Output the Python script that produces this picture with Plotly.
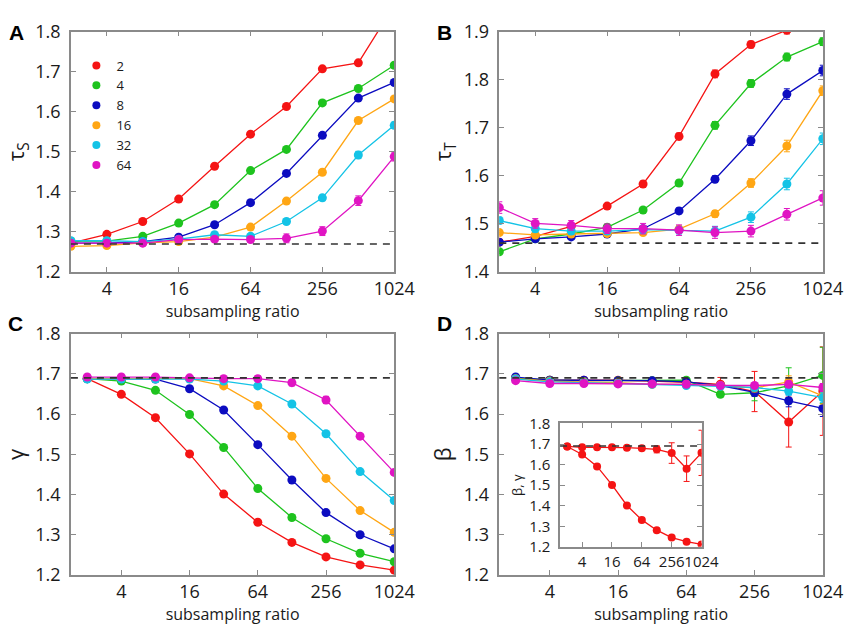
import math
import plotly.graph_objects as go

# ---------------- data ----------------
ratios = [2, 4, 8, 16, 32, 64, 128, 256, 512, 1024]
tick_vals = [4, 16, 64, 256, 1024]
tick_text = ["4", "16", "64", "256", "1024"]
series_labels = ["2", "4", "8", "16", "32", "64"]

# Panel A: tau_S
tauS_2 = [1.272, 1.294, 1.326, 1.382, 1.464, 1.544, 1.613, 1.707, 1.722, 1.865]
tauS_4 = [1.277, 1.277, 1.289, 1.322, 1.368, 1.453, 1.506, 1.622, 1.658, 1.716]
tauS_8 = [1.272, 1.272, 1.276, 1.287, 1.318, 1.373, 1.446, 1.541, 1.634, 1.673]
tauS_16 = [1.264, 1.266, 1.273, 1.276, 1.287, 1.312, 1.377, 1.449, 1.578, 1.632]
tauS_32 = [1.278, 1.278, 1.276, 1.282, 1.293, 1.289, 1.326, 1.385, 1.492, 1.566]
tauS_64 = [1.272, 1.272, 1.272, 1.281, 1.282, 1.281, 1.284, 1.302, 1.378, 1.488]
tauS_2_err = [0.003, 0.003, 0.003, 0.003, 0.004, 0.004, 0.005, 0.005, 0.005, 0.006]
tauS_4_err = [0.003, 0.003, 0.003, 0.003, 0.004, 0.004, 0.005, 0.005, 0.005, 0.005]
tauS_8_err = [0.003, 0.003, 0.003, 0.003, 0.004, 0.004, 0.005, 0.007, 0.006, 0.005]
tauS_16_err = [0.003, 0.003, 0.003, 0.003, 0.004, 0.004, 0.005, 0.006, 0.006, 0.005]
tauS_32_err = [0.003, 0.003, 0.003, 0.004, 0.005, 0.005, 0.006, 0.007, 0.009, 0.008]
tauS_64_err = [0.004, 0.004, 0.004, 0.005, 0.006, 0.007, 0.011, 0.011, 0.012, 0.011]
tauS_ref = 1.27

# Panel B: tau_T
tauT_2 = [1.462, 1.474, 1.495, 1.537, 1.583, 1.682, 1.812, 1.873, 1.903, 1.950]
tauT_4 = [1.442, 1.469, 1.479, 1.493, 1.529, 1.585, 1.705, 1.792, 1.847, 1.879]
tauT_8 = [1.462, 1.469, 1.473, 1.479, 1.490, 1.527, 1.593, 1.673, 1.770, 1.819]
tauT_16 = [1.482, 1.477, 1.479, 1.480, 1.482, 1.489, 1.521, 1.585, 1.662, 1.777]
tauT_32 = [1.507, 1.490, 1.485, 1.485, 1.488, 1.487, 1.485, 1.514, 1.583, 1.677]
tauT_64 = [1.534, 1.501, 1.497, 1.490, 1.490, 1.487, 1.482, 1.485, 1.520, 1.554]
tauT_2_err = [0.004, 0.004, 0.005, 0.005, 0.006, 0.007, 0.008, 0.007, 0.008, 0.010]
tauT_4_err = [0.004, 0.004, 0.005, 0.005, 0.005, 0.006, 0.008, 0.008, 0.008, 0.008]
tauT_8_err = [0.005, 0.005, 0.005, 0.005, 0.006, 0.006, 0.007, 0.010, 0.011, 0.011]
tauT_16_err = [0.005, 0.005, 0.005, 0.006, 0.006, 0.007, 0.007, 0.009, 0.012, 0.010]
tauT_32_err = [0.007, 0.007, 0.007, 0.007, 0.008, 0.008, 0.010, 0.011, 0.012, 0.012]
tauT_64_err = [0.012, 0.010, 0.010, 0.010, 0.011, 0.011, 0.012, 0.012, 0.012, 0.015]
tauT_ref = 1.46

# Panel C: gamma
gamma_2 = [1.688, 1.649, 1.591, 1.501, 1.401, 1.331, 1.281, 1.245, 1.225, 1.212]
gamma_4 = [1.688, 1.682, 1.659, 1.599, 1.517, 1.415, 1.343, 1.290, 1.254, 1.233]
gamma_8 = [1.688, 1.688, 1.687, 1.663, 1.610, 1.524, 1.436, 1.355, 1.300, 1.265]
gamma_16 = [1.688, 1.688, 1.688, 1.688, 1.670, 1.621, 1.545, 1.440, 1.360, 1.306]
gamma_32 = [1.687, 1.687, 1.687, 1.687, 1.682, 1.670, 1.625, 1.551, 1.457, 1.385]
gamma_64 = [1.692, 1.692, 1.692, 1.690, 1.688, 1.688, 1.678, 1.635, 1.545, 1.455]
gamma_2_err = [0.003, 0.003, 0.003, 0.003, 0.003, 0.003, 0.003, 0.003, 0.003, 0.003]
gamma_4_err = [0.003, 0.003, 0.003, 0.003, 0.003, 0.003, 0.003, 0.003, 0.003, 0.003]
gamma_8_err = [0.003, 0.003, 0.003, 0.003, 0.003, 0.003, 0.003, 0.003, 0.003, 0.003]
gamma_16_err = [0.003, 0.003, 0.003, 0.003, 0.003, 0.004, 0.004, 0.004, 0.004, 0.004]
gamma_32_err = [0.003, 0.003, 0.003, 0.003, 0.004, 0.004, 0.005, 0.005, 0.005, 0.005]
gamma_64_err = [0.004, 0.005, 0.006, 0.005, 0.006, 0.007, 0.008, 0.009, 0.006, 0.005]
gamma_ref = 1.69

# Panel D: beta
beta_2 = [1.688, 1.684, 1.684, 1.684, 1.682, 1.679, 1.674, 1.656, 1.580, 1.657]
beta_4 = [1.690, 1.684, 1.683, 1.683, 1.683, 1.684, 1.649, 1.653, 1.670, 1.696]
beta_8 = [1.692, 1.684, 1.684, 1.683, 1.683, 1.680, 1.671, 1.654, 1.633, 1.614]
beta_16 = [1.688, 1.682, 1.680, 1.678, 1.674, 1.674, 1.671, 1.665, 1.680, 1.645]
beta_32 = [1.687, 1.680, 1.678, 1.676, 1.674, 1.671, 1.669, 1.666, 1.657, 1.641]
beta_64 = [1.683, 1.676, 1.676, 1.675, 1.675, 1.674, 1.671, 1.671, 1.674, 1.666]
beta_2_err = [0.003, 0.003, 0.003, 0.004, 0.004, 0.005, 0.017, 0.050, 0.062, 0.110]
beta_4_err = [0.003, 0.003, 0.003, 0.003, 0.004, 0.005, 0.006, 0.020, 0.045, 0.070]
beta_8_err = [0.003, 0.003, 0.003, 0.003, 0.004, 0.004, 0.006, 0.010, 0.015, 0.020]
beta_16_err = [0.003, 0.003, 0.003, 0.003, 0.004, 0.004, 0.006, 0.010, 0.015, 0.020]
beta_32_err = [0.003, 0.003, 0.003, 0.003, 0.004, 0.004, 0.005, 0.008, 0.010, 0.012]
beta_64_err = [0.003, 0.003, 0.003, 0.003, 0.004, 0.004, 0.005, 0.006, 0.008, 0.010]
beta_ref = 1.69

# ---------------- styling ----------------
colors = ["#f51414", "#1ec31e", "#0c0cc0", "#ffa614", "#14c3e6", "#e014c3"]
FONT = "Open Sans, Noto Sans, DejaVu Sans, sans-serif"
AX_COL = "#8a8a8a"
TXT = "#1a1a1a"

panels = [
    ("x", "y", [tauS_2, tauS_4, tauS_8, tauS_16, tauS_32, tauS_64],
     [tauS_2_err, tauS_4_err, tauS_8_err, tauS_16_err, tauS_32_err, tauS_64_err]),
    ("x2", "y2", [tauT_2, tauT_4, tauT_8, tauT_16, tauT_32, tauT_64],
     [tauT_2_err, tauT_4_err, tauT_8_err, tauT_16_err, tauT_32_err, tauT_64_err]),
    ("x3", "y3", [gamma_2, gamma_4, gamma_8, gamma_16, gamma_32, gamma_64],
     [gamma_2_err, gamma_4_err, gamma_8_err, gamma_16_err, gamma_32_err, gamma_64_err]),
    ("x4", "y4", [beta_2, beta_4, beta_8, beta_16, beta_32, beta_64],
     [beta_2_err, beta_4_err, beta_8_err, beta_16_err, beta_32_err, beta_64_err]),
]

fig = go.Figure()

for xa, ya, ys, errs in panels:
    for i, (yv, ev) in enumerate(zip(ys, errs)):
        fig.add_trace(go.Scatter(
            x=ratios, y=yv, xaxis=xa, yaxis=ya, mode="lines+markers",
            line=dict(color=colors[i], width=1.3),
            marker=dict(color=colors[i], size=9),
            error_y=dict(type="data", array=ev, visible=True, color=colors[i],
                         thickness=1, width=3),
            showlegend=False, hoverinfo="x+y"))

# inset: beta and gamma for series "2"
for yv, ev in [(beta_2, beta_2_err), (gamma_2, gamma_2_err)]:
    fig.add_trace(go.Scatter(
        x=ratios, y=yv, xaxis="x5", yaxis="y5", mode="lines+markers",
        line=dict(color=colors[0], width=1.3),
        marker=dict(color=colors[0], size=8),
        error_y=dict(type="data", array=ev, visible=True, color=colors[0],
                     thickness=1, width=3),
        showlegend=False))

# legend entries (markers only)
for i, lab in enumerate(series_labels):
    fig.add_trace(go.Scatter(
        x=[None], y=[None], xaxis="x", yaxis="y", mode="markers", name=lab,
        marker=dict(color=colors[i], size=8), showlegend=True))

# dashed reference lines
for xa, yref in [("x", tauS_ref), ("x2", tauT_ref), ("x3", gamma_ref),
                 ("x4", beta_ref), ("x5", beta_ref)]:
    ya = "y" + xa[1:]
    fig.add_shape(type="line", xref=xa + " domain", yref=ya, x0=0, x1=1,
                  y0=yref, y1=yref,
                  line=dict(color="#333333", width=1.6, dash="7px,6px"))

rngA = [math.log10(2), math.log10(1024)]
rngC = [0.157, math.log10(1024)]


def xax(domain, anchor, rng, show_title=True, fs=18, title_fs=16):
    d = dict(domain=domain, anchor=anchor, type="log", range=rng,
             tickvals=tick_vals, ticktext=tick_text, tickangle=0,
             ticks="inside", ticklen=5, tickcolor=AX_COL, tickwidth=1.2,
             showline=True, linecolor=AX_COL, linewidth=1.5, mirror="ticks",
             showgrid=False, zeroline=False,
             tickfont=dict(family=FONT, size=fs, color=TXT))
    if show_title:
        d["title"] = dict(text="subsampling ratio", standoff=2,
                          font=dict(family=FONT, size=title_fs, color=TXT))
    return d


def yax(domain, anchor, rng, title, fs=18, title_fs=22, standoff=6):
    return dict(domain=domain, anchor=anchor, range=rng, dtick=0.1,
                tickformat=".1f", ticks="inside", ticklen=5, tickcolor=AX_COL,
                tickwidth=1.2, showline=True, linecolor=AX_COL, linewidth=1.5,
                mirror="ticks", showgrid=False, zeroline=False,
                ticklabelstandoff=5,
                tickfont=dict(family=FONT, size=fs, color=TXT),
                title=dict(text=title, standoff=standoff,
                           font=dict(family=FONT, size=title_fs, color=TXT)))


dxL = [0.0840, 0.4671]
dxR = [0.5916, 0.9749]
dyT = [0.5719, 0.9693]
dyB = [0.0711, 0.4701]

fig.update_layout(
    width=865, height=629,
    margin=dict(l=0, r=0, t=0, b=0),
    paper_bgcolor="white", plot_bgcolor="white",
    font=dict(family=FONT, color=TXT),
    xaxis=xax(dxL, "y", rngA),
    yaxis=yax(dyT, "x", [1.2, 1.8], "τ<sub>S</sub>"),
    xaxis2=xax(dxR, "y2", rngA),
    yaxis2=yax(dyT, "x2", [1.4, 1.9], "τ<sub>T</sub>"),
    xaxis3=xax(dxL, "y3", rngC),
    yaxis3=yax(dyB, "x3", [1.2, 1.8], "γ"),
    xaxis4=xax(dxR, "y4", rngC),
    yaxis4=yax(dyB, "x4", [1.2, 1.8], "β"),
    xaxis5=xax([0.6636, 0.8312], "y5", rngC, show_title=False, fs=15),
    yaxis5=yax([0.1176, 0.3216], "x5", [1.2, 1.8], "β, γ", fs=15,
               title_fs=13, standoff=4),
    legend=dict(x=0.0905, y=0.938, xanchor="left", yanchor="top",
                bgcolor="rgba(0,0,0,0)", borderwidth=0,
                font=dict(family=FONT, size=13, color=TXT),
                tracegroupgap=0),
    showlegend=True,
)

# panel letters
for letter, px, py in [("A", 17, 20), ("B", 456, 20), ("C", 16, 323), ("D", 456, 323)]:
    fig.add_annotation(text="<b>%s</b>" % letter, xref="paper", yref="paper",
                       x=px / 865, y=1 - py / 629, xanchor="center", yanchor="middle",
                       showarrow=False,
                       font=dict(family="Liberation Sans, Arial, sans-serif",
                                 size=21, color="#000000"))

fig.write_html("out.html",
               config={"displayModeBar": False},
               post_script="document.body.style.margin='0px';"
                           "document.body.style.padding='0px';")
